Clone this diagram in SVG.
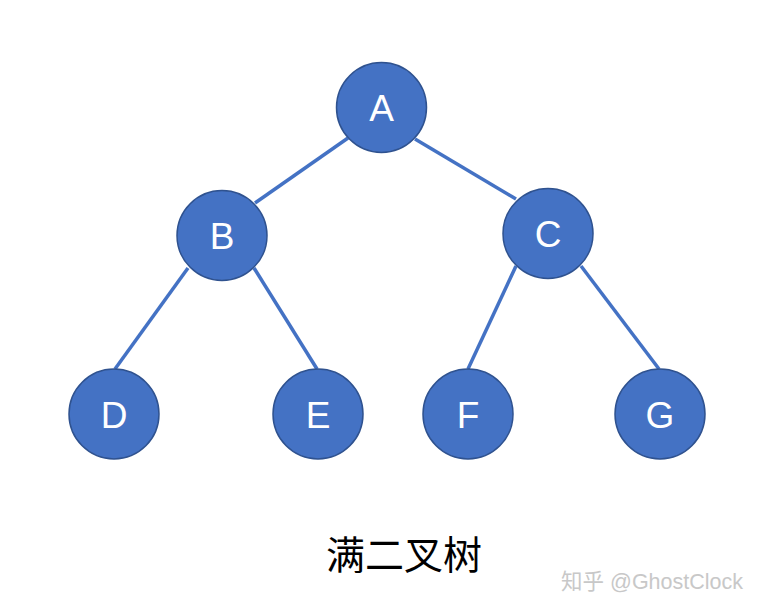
<svg xmlns="http://www.w3.org/2000/svg" width="762" height="614" viewBox="0 0 762 614">
<style>
.edge{stroke:#4472C4;stroke-width:3.5;fill:none}
.node circle{fill:#4472C4;stroke:#2F528F;stroke-width:1.5}
.node text{fill:#ffffff;font-family:"Liberation Sans","DejaVu Sans",sans-serif;font-size:37px;text-anchor:middle}
</style>
<rect width="762" height="614" fill="#ffffff"/>
<g id="connectors">
<line class="edge" x1="348" y1="138" x2="255" y2="203"/>
<line class="edge" x1="415" y1="139" x2="516" y2="199"/>
<line class="edge" x1="188" y1="268" x2="115" y2="369"/>
<line class="edge" x1="254" y1="268" x2="317" y2="369"/>
<line class="edge" x1="516" y1="266" x2="468" y2="369"/>
<line class="edge" x1="581" y1="266" x2="659" y2="369"/>
</g>
<g id="node-A" class="node"><circle cx="381.5" cy="107.5" r="45"/><text x="381.5" y="121">A</text></g>
<g id="node-B" class="node"><circle cx="222" cy="235.5" r="45"/><text x="222" y="249">B</text></g>
<g id="node-C" class="node"><circle cx="548" cy="233.5" r="45"/><text x="548" y="247">C</text></g>
<g id="node-D" class="node"><circle cx="114" cy="414" r="45"/><text x="114" y="428">D</text></g>
<g id="node-E" class="node"><circle cx="318" cy="414" r="45"/><text x="318" y="428">E</text></g>
<g id="node-F" class="node"><circle cx="468" cy="414" r="45"/><text x="468" y="428">F</text></g>
<g id="node-G" class="node"><circle cx="660" cy="414" r="45"/><text x="660" y="428">G</text></g>
<text x="404" y="569" font-family="'Noto Sans CJK SC',sans-serif" font-size="39" text-anchor="middle" fill="#000000">满二叉树</text>
<text x="743" y="589" font-family="'Liberation Sans','Noto Sans CJK SC',sans-serif" font-size="21.5" text-anchor="end" fill="#c8c8c8">知乎 @GhostClock</text>
</svg>
